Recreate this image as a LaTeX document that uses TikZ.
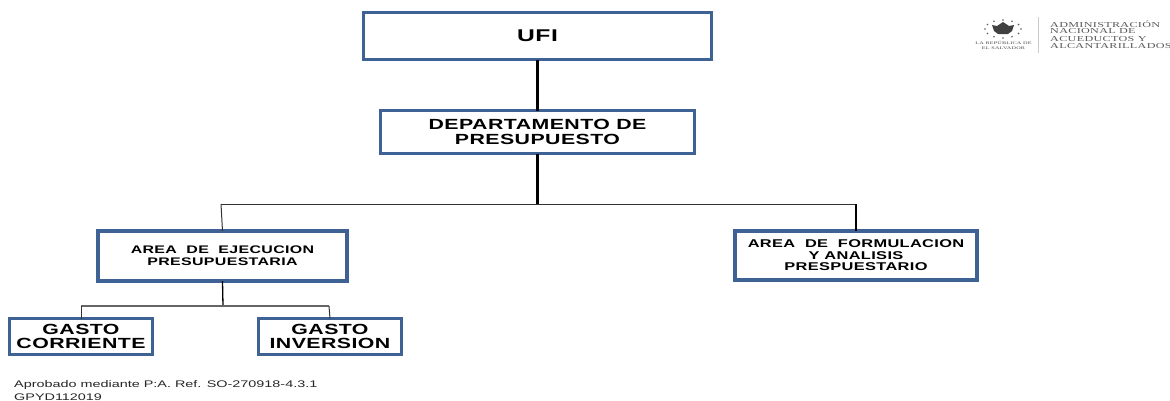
\documentclass[tikz,border=0pt]{standalone}
\usepackage{fontspec}
\setmainfont{Liberation Sans}
\newfontfamily\xa[FakeStretch=1.45,LetterSpace=3]{Liberation Sans Bold}
\newfontfamily\xb[FakeStretch=1.5]{Liberation Sans}
\newfontfamily\xc[FakeStretch=1.6,LetterSpace=4]{Liberation Serif}
\definecolor{bluebox}{HTML}{3D6293}
\definecolor{conn}{HTML}{333333}
\newcommand{\fs}[2]{\xa\fontsize{#1}{#2}\selectfont}
\tikzset{
 orgbox/.style={draw=bluebox,fill=white,line width=3pt,inner sep=0pt,outer sep=0pt,align=center},
 wideedge/.style={orgbox,line width=3.6pt},
 heavy/.style={line width=3pt,black},
 thin link/.style={line width=1pt,conn},
 logotxt/.style={anchor=west,inner sep=0pt,text=black!65,font=\xc\fontsize{7.6}{8}\selectfont},
 foot/.style={anchor=west,inner sep=0pt,text=black!85,font=\xb\fontsize{9.6}{11}\selectfont}
}
\begin{document}
\begin{tikzpicture}[x=1pt,y=-1pt]
\useasboundingbox (0,0) rectangle (1170,400);
\node[orgbox,minimum width=348pt,minimum height=47pt,font=\fs{17}{17}] (ufi) at (537.5,36) {UFI};
\node[orgbox,minimum width=314pt,minimum height=43pt,font=\fs{14.7}{15}] (dept) at (537.5,132) {DEPARTAMENTO DE\\PRESUPUESTO};
\node[wideedge,minimum width=249.4pt,minimum height=50.4pt,font=\fs{11}{12}] (ejec) at (222.5,256) {AREA\ \ DE\ \ EJECUCION\\PRESUPUESTARIA};
\node[wideedge,minimum width=242.4pt,minimum height=49.4pt,font=\fs{11.3}{11.5}] (form) at (856,255.5) {AREA\ \ DE\ \ FORMULACION\\Y ANALISIS\\PRESPUESTARIO};
\node[orgbox,minimum width=143pt,minimum height=36pt,font=\fs{14.7}{14}] (gc) at (81,336.5) {GASTO\\CORRIENTE};
\node[orgbox,minimum width=143pt,minimum height=36pt,font=\fs{14.7}{14}] (gi) at (330,336.5) {GASTO\\INVERSION};
\coordinate (top) at (537.5,205);
\coordinate (tl) at (221,204);
\coordinate (tr) at (856,204);
\coordinate (mid) at (223,306);
\coordinate (ml) at (81,306);
\coordinate (mr) at (329,306);
\draw[heavy] (ufi.south) -- (dept.north);
\draw[heavy] (dept.south) -- (top);
\draw[thin link] (tl) -- (tr);
\draw[thin link] (tl) -- (ejec.north);
\draw[line width=2.5pt,black] (tr) -- (form.north);
\draw[line width=1.3pt,black] (ejec.south) -- (mid);
\draw[line width=1.2pt,black!60] (ml) -- (mr);
\draw[thin link] (ml) -- (gc.north);
\draw[thin link] (mr) -- (gi.north);
% logo
\node[logotxt] (l1) at (1050,24) {ADMINISTRACIÓN};
\node[logotxt] (l2) at (1050,31.5) {NACIONAL DE};
\node[logotxt] (l3) at (1050,39) {ACUEDUCTOS Y};
\node[logotxt] (l4) at (1050,46.5) {ALCANTARILLADOS};
\draw[black!20,line width=.8pt] (1038,17) -- (1038,53);
\fill[black!75] (997,26) -- (1003,22) -- (1009,26) -- (1014,25) -- (1012,31) -- (1008,34) -- (998,34) -- (994,31) -- (992,25) -- cycle;
\foreach \a in {0,30,...,330}{\fill[black!65] ({1003+18*cos(\a)},{29+9*sin(\a)}) circle (.9pt);}
\node[inner sep=0pt,text=black!70,font=\xc\fontsize{3.9}{4.8}\selectfont,align=center] (rep) at (1003.5,45.5) {LA REPÚBLICA DE\\EL SALVADOR};
% footer
\node[foot] (f1) at (14,385) {Aprobado mediante P:A. Ref. SO-270918-4.3.1};
\node[foot] (f2) at (14,397) {GPYD112019};
\end{tikzpicture}
\end{document}
